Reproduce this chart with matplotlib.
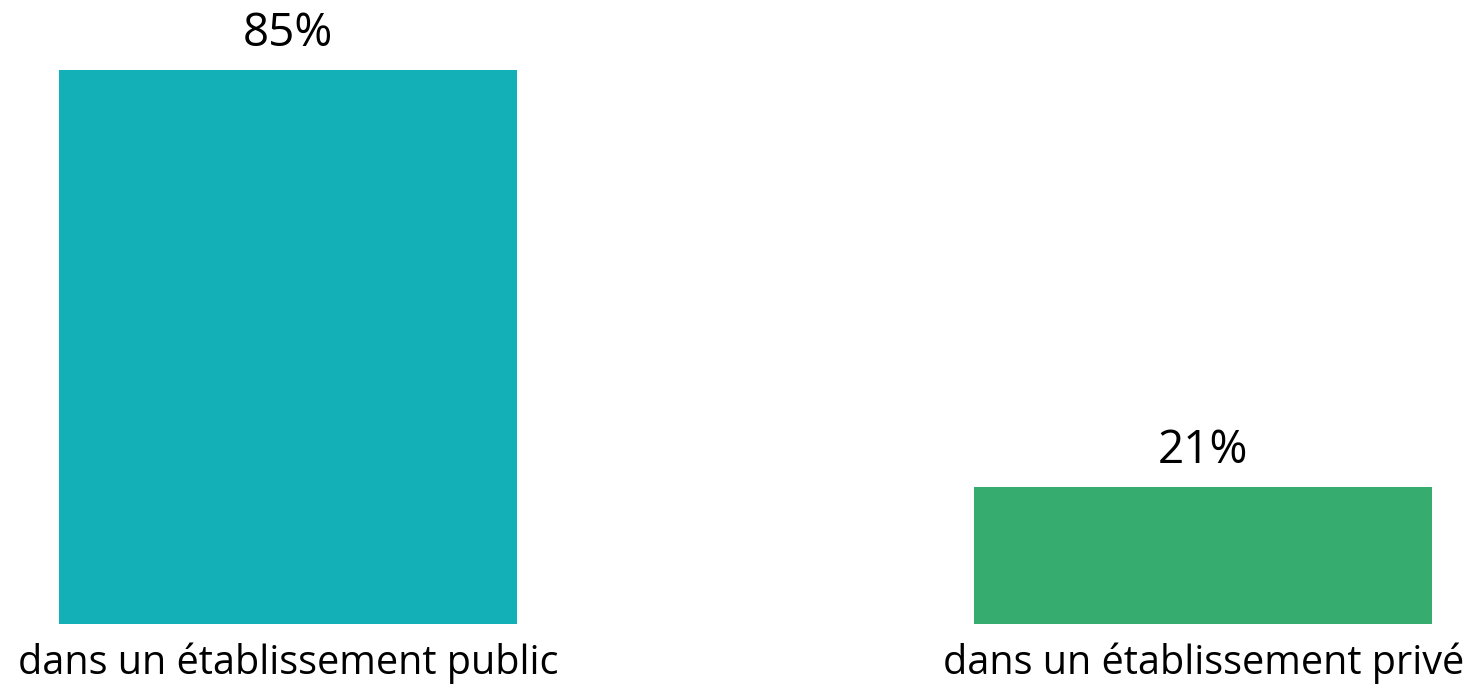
import matplotlib
matplotlib.use('Agg')
import matplotlib.pyplot as plt

categories = ['dans un établissement public', 'dans un établissement privé']
values = [85, 21]
colors = ['#13B0B8', '#36AC6F']

W, H = 1473, 687
fig = plt.figure(figsize=(W / 100, H / 100), dpi=100)
# axes placed in pixel terms: bars span 59..1432 px, baseline at 624 px, 85% top at 70 px
ax = fig.add_axes([59 / W, (H - 624) / H, (1432 - 59) / W, (624 - 70) / H])

x = list(range(len(categories)))
ax.bar(x, values, width=0.5, color=colors)
ax.set_xlim(-0.25, 1.25)
ax.set_ylim(0, 85)

for xi, v in zip(x, values):
    ax.text(xi, v + 2.0, f'{v}%', ha='center', va='bottom',
            fontsize=33, family='Open Sans')

ax.set_xticks(x)
ax.set_xticklabels(categories, fontsize=28.5, family='Open Sans')
ax.tick_params(axis='x', length=0, pad=13)
ax.set_yticks([])
for s in ax.spines.values():
    s.set_visible(False)

fig.savefig('out.png', dpi=100)
